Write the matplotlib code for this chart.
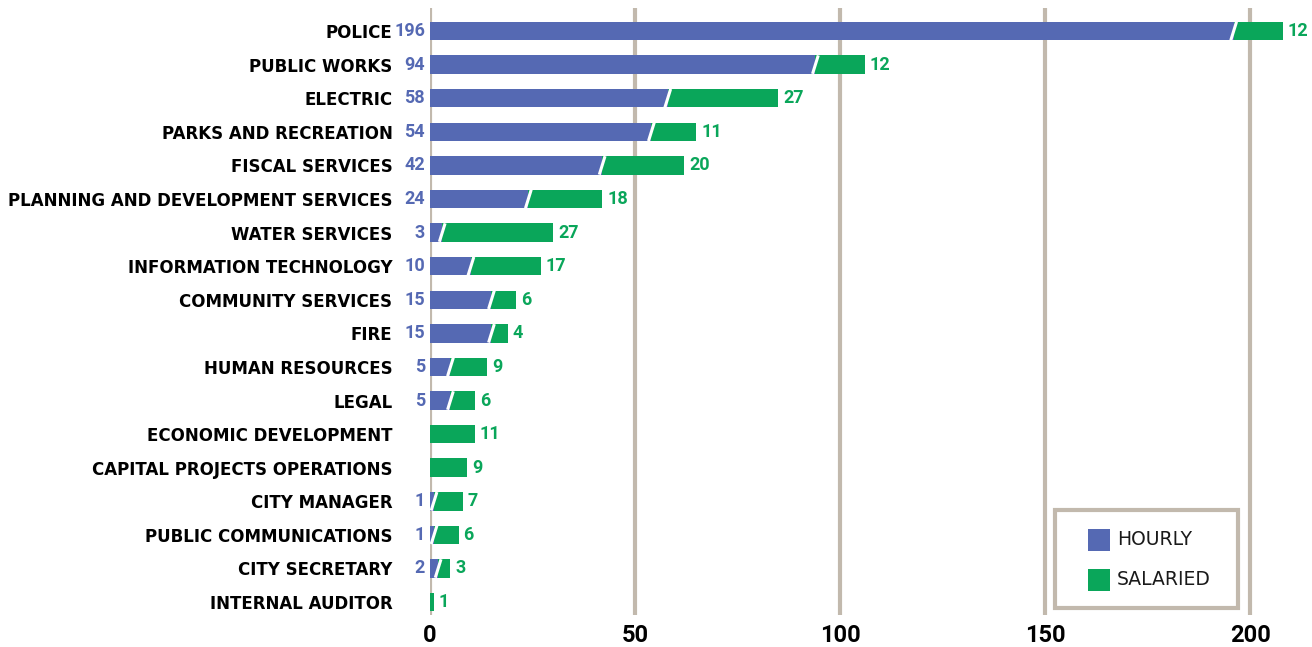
import matplotlib
matplotlib.use("Agg")
import matplotlib.pyplot as plt
from matplotlib.patches import Rectangle

# data
departments = ["POLICE", "PUBLIC WORKS", "ELECTRIC", "PARKS AND RECREATION", "FISCAL SERVICES",
               "PLANNING AND DEVELOPMENT SERVICES", "WATER SERVICES", "INFORMATION TECHNOLOGY",
               "COMMUNITY SERVICES", "FIRE", "HUMAN RESOURCES", "LEGAL", "ECONOMIC DEVELOPMENT",
               "CAPITAL PROJECTS OPERATIONS", "CITY MANAGER", "PUBLIC COMMUNICATIONS",
               "CITY SECRETARY", "INTERNAL AUDITOR"]
hourly = [196, 94, 58, 54, 42, 24, 3, 10, 15, 15, 5, 5, 0, 0, 1, 1, 2, 0]
salaried = [12, 12, 27, 11, 20, 18, 27, 17, 6, 4, 9, 6, 11, 9, 7, 6, 3, 1]
series_names = ["HOURLY", "SALARIED"]
x_ticks = [0, 50, 100, 150, 200]

BLUE = "#5569b3"
GREEN = "#0aa65a"
GRID = "#c2b9ad"
num_font = ["Roboto", "DejaVu Sans"]
lab_font = ["DejaVu Sans"]

fig = plt.figure(figsize=(13.12, 6.47), dpi=100)
ax = fig.add_axes([0.3277, 0.0487, 0.6626, 0.9397])

ypos = list(range(len(departments)))
h = 0.55
ax.barh(ypos, hourly, height=h, color=BLUE, zorder=3)
ax.barh(ypos, salaried, left=hourly, height=h, color=GREEN, zorder=3)

# slanted white divider between the two segments + value labels
for i, (hv, sv) in enumerate(zip(hourly, salaried)):
    if hv > 0:
        ax.plot([hv - 0.7, hv + 0.7], [i + h / 2, i - h / 2], color="white", lw=2.2,
                zorder=4, solid_capstyle="butt")
        ax.text(-1.2, i, str(hv), ha="right", va="center", color=BLUE, fontsize=13,
                fontweight="bold", family=num_font)
    ax.text(hv + sv + 1.2, i, str(sv), ha="left", va="center", color=GREEN, fontsize=13,
            fontweight="bold", family=num_font)

ax.set_xlim(0, 212)
ax.set_ylim(17.4, -0.7)
ax.set_yticks(ypos)
ax.set_yticklabels(departments, fontsize=12, fontweight="bold", family=lab_font)
ax.tick_params(axis="y", length=0, pad=27)
ax.set_xticks(x_ticks)
ax.set_xticklabels([str(t) for t in x_ticks], fontsize=17, fontweight="bold", family=num_font)
ax.tick_params(axis="x", length=0, pad=6)
for s in ax.spines.values():
    s.set_visible(False)
for t in x_ticks:
    ax.axvline(t, color=GRID, lw=3, zorder=1)

# legend box drawn in axes coordinates
tr = ax.transAxes
ax.add_patch(Rectangle((0.7192, 0.0123), 0.2106, 0.1612, transform=tr, facecolor="white",
                       edgecolor=GRID, lw=3, zorder=6, clip_on=False))
for name, col, yc in zip(series_names, [BLUE, GREEN], [0.1242, 0.0584]):
    ax.add_patch(Rectangle((0.7572, yc - 0.0181), 0.0253, 0.0362, transform=tr,
                           facecolor=col, edgecolor="none", zorder=7))
    ax.text(0.7906, yc, name, transform=tr, ha="left", va="center", fontsize=13.5,
            color="#1a1a1a", family=lab_font, zorder=7)

fig.savefig("out.png", dpi=100, facecolor="white")
